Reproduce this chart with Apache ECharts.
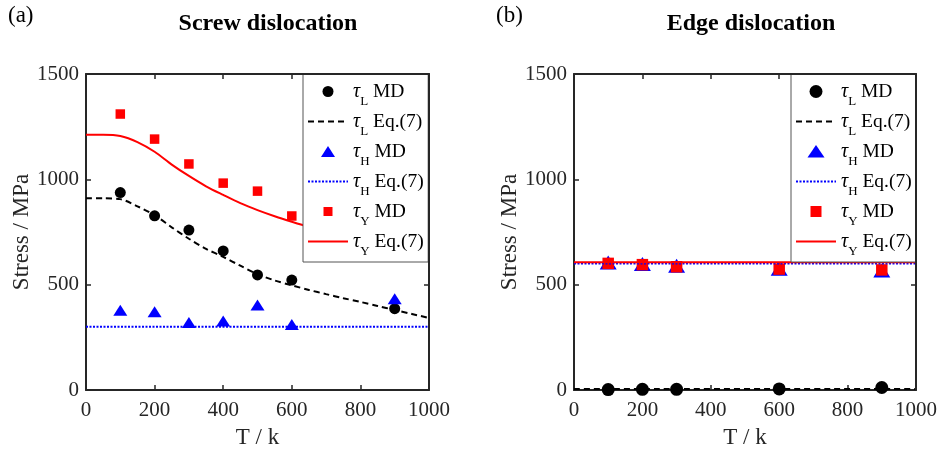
<!DOCTYPE html>
<html>
<head>
<meta charset="utf-8">
<script src="https://cdn.jsdelivr.net/npm/echarts@6/dist/echarts.min.js"></script>
<style>
html,body{margin:0;padding:0;background:#fff;}
#chart{width:940px;height:454px;}
</style>
</head>
<body>
<div id="chart"></div>
<script>
// ---------------- data ----------------
const X_TICKS = [0, 200, 400, 600, 800, 1000];
const Y_TICKS = [0, 500, 1000, 1500];

// Screw dislocation: Eq.(7) curves (every 50 K)
const T_CURVE = [0, 50, 100, 150, 200, 250, 300, 350, 400, 450, 500, 550, 600, 650, 700, 750, 800, 850, 900, 950, 1000];
const SCREW_TL_EQ = [910, 910, 906, 872, 830, 772, 718, 670, 632, 590, 550, 520, 497, 475, 455, 436, 418, 399, 380, 361, 342];
const SCREW_TY_EQ = [1212, 1212, 1206, 1177, 1131, 1070, 1016, 967, 926, 887, 854, 825, 799, 775, 755, 736, 718, 699, 680, 661, 642];
const T_FLAT = [0, 1000];
const SCREW_TH_EQ = [300, 300];

// Screw dislocation: MD points
const SCREW_T_MD = [100, 200, 300, 400, 500, 600, 900];
const SCREW_TL_MD = [937, 827, 759, 660, 546, 522, 386];
const SCREW_TH_MD = [378, 372, 320, 327, 403, 311, 433];
const SCREW_TY_MD = [1310, 1191, 1073, 982, 944, 826, 815];

// Edge dislocation
const EDGE_T_MD = [100, 200, 300, 600, 900];
const EDGE_TL_MD = [2, 3, 3, 5, 12];
const EDGE_TH_MD = [605, 598, 590, 575, 567];
const EDGE_TY_MD = [601, 595, 585, 574, 570];
const EDGE_TL_EQ = [5, 5];
const EDGE_TH_EQ = [600, 600];
const EDGE_TY_EQ = [607, 607];

const NAMES = ['τL MD', 'τL Eq.(7)', 'τH MD', 'τH Eq.(7)', 'τY MD', 'τY Eq.(7)'];

// ---------------- styling ----------------
const FONT = "'Liberation Serif', 'Times New Roman', serif";
const AX = '#262626';
const pts = (xs, ys) => xs.map((x, i) => [x, ys[i]]);
const plain = v => String(v);

function xAxes(grid) {
  const base = {
    gridIndex: grid, type: 'value',
    min: X_TICKS[0], max: X_TICKS[X_TICKS.length - 1], interval: X_TICKS[1] - X_TICKS[0],
    splitLine: { show: false },
    axisLine: { show: true, onZero: false, lineStyle: { color: AX, width: 2 } },
    axisTick: { show: true, inside: true, length: 5, lineStyle: { color: AX, width: 1.5 } }
  };
  return [
    Object.assign({}, base, {
      position: 'bottom',
      axisLabel: { margin: 10, fontFamily: FONT, fontSize: 21, color: AX, formatter: plain },
      name: 'T / k', nameLocation: 'middle', nameGap: 36,
      nameTextStyle: { fontFamily: FONT, fontSize: 23, color: AX }
    }),
    Object.assign({}, base, {
      position: 'top', z: 5,
      axisLabel: { show: false },
      axisTick: Object.assign({}, base.axisTick, { customValues: X_TICKS.slice(1, 4) })
    })
  ];
}
function yAxes(grid) {
  const base = {
    gridIndex: grid, type: 'value',
    min: Y_TICKS[0], max: Y_TICKS[Y_TICKS.length - 1], interval: Y_TICKS[1] - Y_TICKS[0],
    splitLine: { show: false },
    axisLine: { show: true, onZero: false, lineStyle: { color: AX, width: 2 } },
    axisTick: { show: true, inside: true, length: 5, lineStyle: { color: AX, width: 1.5 } }
  };
  return [
    Object.assign({}, base, {
      position: 'left',
      axisLabel: { margin: 7, fontFamily: FONT, fontSize: 21, color: AX, formatter: plain },
      name: 'Stress / MPa', nameLocation: 'middle', nameGap: 50,
      nameTextStyle: { fontFamily: FONT, fontSize: 23, color: AX }
    }),
    Object.assign({}, base, {
      position: 'right', z: 5,
      axisLabel: { show: false },
      axisTick: Object.assign({}, base.axisTick, { customValues: Y_TICKS.slice(1, 2) })
    })
  ];
}

function panelSeries(xi, yi, d, sz) {
  const common = { xAxisIndex: xi, yAxisIndex: yi, silent: true };
  return [
    Object.assign({ name: NAMES[0], type: 'scatter', symbol: 'circle', symbolSize: sz.c,
      itemStyle: { color: '#000000', opacity: 1 }, data: pts(d.tmd, d.lmd) }, common),
    Object.assign({ name: NAMES[1], type: 'line', symbol: 'none', showSymbol: false, smooth: 0.3,
      lineStyle: { color: '#000000', width: 2, type: [6, 4] }, itemStyle: { color: '#000000' },
      data: pts(d.tc, d.leq) }, common),
    Object.assign({ name: NAMES[2], type: 'scatter', symbol: 'triangle', symbolSize: sz.t,
      itemStyle: { color: '#0000ff', opacity: 1 }, data: pts(d.tmd, d.hmd) }, common),
    Object.assign({ name: NAMES[3], type: 'line', symbol: 'none', showSymbol: false,
      lineStyle: { color: '#0000ff', width: 2, type: [2, 1.5] }, itemStyle: { color: '#0000ff' },
      data: pts(d.tf, d.heq) }, common),
    Object.assign({ name: NAMES[4], type: 'scatter', symbol: 'rect', symbolSize: sz.s,
      itemStyle: { color: '#ff0000', opacity: 1 }, data: pts(d.tmd, d.ymd) }, common),
    Object.assign({ name: NAMES[5], type: 'line', symbol: 'none', showSymbol: false, smooth: 0.3,
      lineStyle: { color: '#ff0000', width: 2, type: 'solid' }, itemStyle: { color: '#ff0000' },
      data: pts(d.tc, d.yeq) }, common)
  ];
}

const RICH = {
  t: { fontFamily: FONT, fontStyle: 'italic', fontSize: 20, lineHeight: 20, color: '#000' },
  s: { fontFamily: FONT, fontSize: 13, lineHeight: 13, padding: [20, 0, 0, 0], color: '#000' },
  r: { fontFamily: FONT, fontSize: 19.5, lineHeight: 20, color: '#000' }
};
const HIDE_SYMBOL = { color: 'rgba(0,0,0,0)', opacity: 0, borderWidth: 0 };
function legendFor(left, icons) {
  return {
    orient: 'vertical', left: left, top: 74,
    padding: [1, 4.5, 4, 4], itemGap: -3, itemWidth: 40, itemHeight: 14,
    backgroundColor: '#ffffff', borderColor: '#555555', borderWidth: 1,
    selectedMode: false, z: 4,
    data: NAMES.map((n, i) => icons[i] ? { name: n, icon: icons[i] } : { name: n, itemStyle: HIDE_SYMBOL }),
    formatter: n => {
      const m = n.match(/^τ(\S)\s(.*)$/);
      return '{t|τ}{s|' + m[1] + '}{r| ' + m[2] + '}';
    },
    textStyle: { align: 'left', rich: RICH, fontFamily: FONT, color: '#000' }
  };
}
const ICONS_L = [
  'path://M0,0M14,14M1.5,7a5.5,5.5 0 1,0 11,0a5.5,5.5 0 1,0 -11,0z', null,
  'path://M0,0M14,14M0,12.5L7,1.5L14,12.5z', null,
  'path://M0,0M14,14M2.5,2.5h9v9h-9z', null
];
const ICONS_R = [
  'path://M0,0M14,14M0.5,7a6.5,6.5 0 1,0 13,0a6.5,6.5 0 1,0 -13,0z', null,
  'path://M0,0M18,14M0.5,13L9,0.5L17.5,13z', null,
  'path://M0,0M14,14M1.5,1.5h11v11h-11z', null
];

const option = {
  animation: false,
  backgroundColor: '#ffffff',
  title: [
    { text: 'Screw dislocation', left: 268, top: 11.5, padding: 0, textAlign: 'center',
      textStyle: { fontFamily: FONT, fontWeight: 'bold', fontSize: 24, color: '#000' } },
    { text: 'Edge dislocation', left: 751, top: 11.5, padding: 0, textAlign: 'center',
      textStyle: { fontFamily: FONT, fontWeight: 'bold', fontSize: 24, color: '#000' } },
    { text: '(a)', left: 8, top: 4, padding: 0,
      textStyle: { fontFamily: FONT, fontWeight: 'normal', fontSize: 23, color: '#000' } },
    { text: '(b)', left: 496, top: 4, padding: 0,
      textStyle: { fontFamily: FONT, fontWeight: 'normal', fontSize: 23, color: '#000' } }
  ],
  grid: [
    { left: 86, top: 74, width: 343, height: 316, containLabel: false },
    { left: 574, top: 74, width: 343, height: 316, containLabel: false }
  ],
  xAxis: xAxes(0).concat(xAxes(1)),
  yAxis: yAxes(0).concat(yAxes(1)),
  legend: [legendFor(303, ICONS_L), legendFor(791, ICONS_R)],
  series: panelSeries(0, 0, {
      tmd: SCREW_T_MD, lmd: SCREW_TL_MD, hmd: SCREW_TH_MD, ymd: SCREW_TY_MD,
      tc: T_CURVE, leq: SCREW_TL_EQ, yeq: SCREW_TY_EQ, tf: T_FLAT, heq: SCREW_TH_EQ
    }, { c: 11, t: [14, 11], s: 9.5 })
    .concat(panelSeries(2, 2, {
      tmd: EDGE_T_MD, lmd: EDGE_TL_MD, hmd: EDGE_TH_MD, ymd: EDGE_TY_MD,
      tc: T_FLAT, leq: EDGE_TL_EQ, yeq: EDGE_TY_EQ, tf: T_FLAT, heq: EDGE_TH_EQ
    }, { c: 13, t: [17, 14], s: 11.5 }))
};

const chart = echarts.init(document.getElementById('chart'), null, { renderer: 'canvas' });
chart.setOption(option);
</script>
</body>
</html>
